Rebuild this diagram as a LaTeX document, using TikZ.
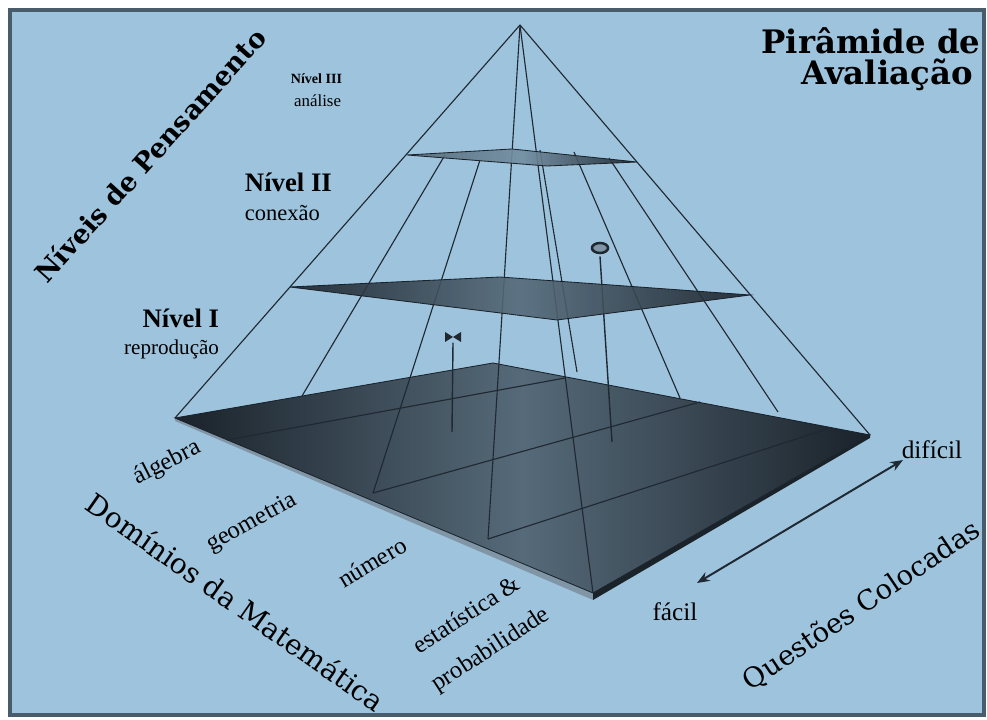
\documentclass[tikz,border=0pt]{standalone}
\usepackage{fontspec}
\setmainfont{Liberation Serif}
\newfontfamily\titlefont{DejaVu Serif}
\usetikzlibrary{arrows.meta}

\definecolor{skyback}{RGB}{157,195,221}
\definecolor{frameline}{RGB}{72,92,108}
\definecolor{inkline}{RGB}{32,40,50}
\definecolor{slabdark}{RGB}{26,34,42}
\definecolor{slabmid}{RGB}{86,106,121}
\definecolor{slabedge}{RGB}{128,150,166}

\begin{document}
\begin{tikzpicture}[x=0.025cm,y=-0.025cm,
  edge/.style={inkline,line width=0.8pt},
  slab/.style={draw=slabdark,line width=0.6pt},
  levelname/.style={font=\fontsize{#1}{#1}\selectfont\bfseries},
  levelsub/.style={font=\fontsize{#1}{#1}\selectfont},
  domain/.style={font=\fontsize{17.5}{17.5}\selectfont,rotate=#1},
  bigtitle/.style={font=\titlefont\fontsize{#1}{#1}\selectfont}]
\useasboundingbox (0,0) rectangle (987,720);
\fill[white] (0,0) rectangle (987,720);
\draw[frameline,line width=2.5pt,fill=skyback] (10,10) rectangle (984,715);

% pyramid corners
\coordinate (apex) at (520,25);
\coordinate (bL) at (175,418);
\coordinate (bB) at (493,363);
\coordinate (bR) at (870,435);
\coordinate (bF) at (593,593);
\coordinate (bLs) at (175,421);
\coordinate (bFs) at (593,600);
\coordinate (bRs) at (870,438);

% base slab
\fill[slabedge] (bL) -- (bF) -- (bFs) -- (bLs) -- cycle;
\fill[slabdark] (bF) -- (bR) -- (bRs) -- (bFs) -- cycle;
\shade[slab,left color=slabdark,right color=slabdark,middle color=slabmid]
  (bL) -- (bB) -- (bR) -- (bF) -- cycle;

% domain strips on the base
\coordinate (dA1) at (227,440); \coordinate (dA2) at (565,378);
\coordinate (dB1) at (373,493); \coordinate (dB2) at (700,402);
\coordinate (dC1) at (488,539); \coordinate (dC2) at (830,428);
\draw[edge] (dA1) -- (dA2);
\draw[edge] (dB1) -- (dB2);
\draw[edge] (dC1) -- (dC2);

% back edges seen through
\coordinate (kL) at (302,396);
\coordinate (kB1) at (577,372);
\coordinate (kB2) at (680,398);
\coordinate (kB3) at (778,412);
\coordinate (tL) at (445,155);
\coordinate (tU) at (480,160);
\coordinate (tB1) at (540,150);
\coordinate (tB2) at (574,152);
\coordinate (tB3) at (609,158);
\draw[edge] (tL) -- (kL);
\draw[edge] (tU) -- (dB1);
\draw[edge] (tB1) -- (kB1);
\draw[edge] (tB2) -- (kB2);
\draw[edge] (tB3) -- (kB3);

% edges from the apex
\draw[edge] (apex) -- (bL);
\draw[edge] (apex) -- (dC1);
\draw[edge] (apex) -- (bF);
\draw[edge] (apex) -- (bR);

% the two questions
\coordinate (qX) at (453,337);
\coordinate (qXf) at (452,432);
\coordinate (qO) at (600,248);
\coordinate (qOf) at (612,442);
\draw[edge,line width=1pt] ([yshift=-4]qX) -- (qXf);
\fill[inkline] ([shift={(-8,-5)}]qX) -- ([shift={(8,5)}]qX) -- ([shift={(8,-5)}]qX)
  -- ([shift={(-8,5)}]qX) -- cycle;
\draw[edge,line width=1pt] ([yshift=-6]qO) -- (qOf);
\draw[inkline,line width=1.8pt,fill=slabedge] (qO) ellipse (8 and 5);

% Nivel II plane
\coordinate (mL) at (290,287);
\coordinate (mB) at (500,277);
\coordinate (mR) at (750,295);
\coordinate (mF) at (557,320);
\shade[slab,left color=slabdark,right color=slabdark,middle color=slabmid,fill opacity=0.9]
  (mL) -- (mB) -- (mR) -- (mF) -- cycle;

% Nivel III plane
\coordinate (sL) at (407,155);
\coordinate (sB) at (512,149);
\coordinate (sR) at (637,162);
\coordinate (sF) at (547,166);
\shade[slab,left color=slabmid,right color=slabdark,middle color=slabmid!60!skyback,fill opacity=0.9]
  (sL) -- (sB) -- (sR) -- (sF) -- cycle;

% level names
\node[levelname=10,anchor=east] (lvIII) at (347,79) {Nível III};
\node[levelsub=12,anchor=east] (lvIIIs) at (346,101) {análise};
\node[levelname=19,anchor=west] (lvII) at (240,182) {Nível II};
\node[levelsub=16,anchor=west] (lvIIs) at (240,213) {conexão};
\node[levelname=19,anchor=east] (lvI) at (224,318) {Nível I};
\node[levelsub=15,anchor=east] (lvIs) at (224,349) {reprodução};

% titles
\node[font=\titlefont\bfseries\fontsize{23}{23}\selectfont] (ttA) at (871,41) {Pirâmide de};
\node[font=\titlefont\bfseries\fontsize{23}{23}\selectfont] (ttB) at (887,75) {Avaliação};
\node[font=\titlefont\bfseries\fontsize{19}{19}\selectfont,rotate=48] (thinking) at (150,155) {Níveis de Pensamento};
\node[bigtitle=20,rotate=-35] (domains) at (236,602) {Domínios da Matemática};
\node[bigtitle=19.5,rotate=34] (asked) at (862,606) {Questões Colocadas};

% domains
\node[domain=27] (dAlg) at (167,463) {álgebra};
\node[domain=29] (dGeo) at (252,523) {geometria};
\node[domain=31] (dNum) at (372,562) {número};
\node[domain=33] (dEst) at (466,614) {estatística \&};
\node[domain=33] (dPrb) at (491,650) {probabilidade};

% difficulty
\node[levelsub=18] (easy) at (675,612) {fácil};
\node[levelsub=18] (hard) at (932,450) {difícil};
\coordinate (easyTip) at (697,583);
\coordinate (hardTip) at (903,460);
\draw[inkline,line width=1.4pt,{Stealth[length=9pt,width=7pt]}-{Stealth[length=9pt,width=7pt]}]
  (easyTip) -- (hardTip);
\end{tikzpicture}
\end{document}
